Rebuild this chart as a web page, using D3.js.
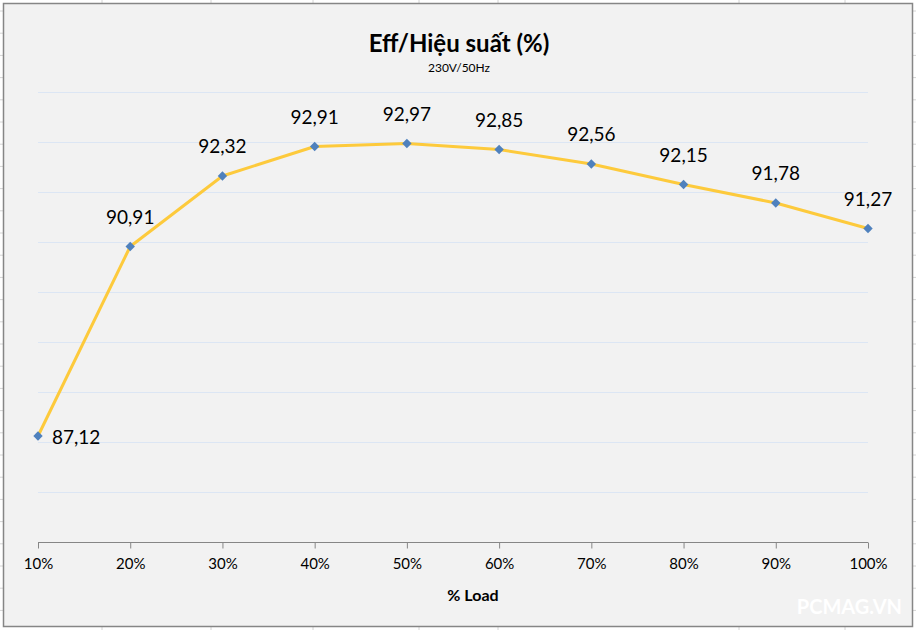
<!DOCTYPE html>
<html>
<head>
<meta charset="utf-8">
<script src="https://cdn.jsdelivr.net/npm/d3@7"></script>
<style>
    body { margin: 0; background: #ffffff; }
    text { font-family: Lato, 'Noto Sans', sans-serif; }
</style>
</head>
<body>
<script>

// DATA

const loads = ['10%', '20%', '30%', '40%', '50%', '60%', '70%', '80%', '90%', '100%'];
const efficiency = [87.12, 90.91, 92.32, 92.91, 92.97, 92.85, 92.56, 92.15, 91.78, 91.27];
const gridValues = [86, 87, 88, 89, 90, 91, 92, 93, 94];

const chartTitle = 'Eff/Hiệu suất (%)',
    chartSubtitle = '230V/50Hz',
    xTitle = '% Load',
    watermark = 'PCMAG.VN';

// SIZES

const width = 916,
    height = 630;

const svg = d3.select('body')
    .append('svg')
    .attr('width', width)
    .attr('height', height);

// sheet cell marks outside the chart frame
const rowMarks = d3.range(11, height, 22.2);
const colMarks = [102, 211, 313, 419, 498, 739, 845];

svg.selectAll('.rowL')
    .data(rowMarks)
    .enter()
    .append('line')
    .attr('x1', 0).attr('x2', 3)
    .attr('y1', d => d).attr('y2', d => d)
    .style('stroke', '#d4d4d4');

svg.selectAll('.rowR')
    .data(rowMarks)
    .enter()
    .append('line')
    .attr('x1', 913).attr('x2', width)
    .attr('y1', d => d).attr('y2', d => d)
    .style('stroke', '#d4d4d4');

svg.selectAll('.colT')
    .data(colMarks)
    .enter()
    .append('line')
    .attr('x1', d => d).attr('x2', d => d)
    .attr('y1', 0).attr('y2', 3)
    .style('stroke', '#d4d4d4');

svg.selectAll('.colB')
    .data(colMarks)
    .enter()
    .append('line')
    .attr('x1', d => d).attr('x2', d => d)
    .attr('y1', 627).attr('y2', height)
    .style('stroke', '#d4d4d4');

// chart frame
svg.append('rect')
    .attr('x', 3.5)
    .attr('y', 3.5)
    .attr('width', 909)
    .attr('height', 623)
    .style('fill', '#f2f2f2')
    .style('stroke', '#868686')
    .style('stroke-width', 1.5);

// SCALES

const x = d3.scalePoint()
    .domain(loads)
    .range([38, 868]);

const y = d3.scaleLinear()
    .domain([85, 94])
    .range([542, 92]);

// GRIDLINES

svg.selectAll('.grid')
    .data(gridValues)
    .enter()
    .append('line')
    .attr('class', 'grid')
    .attr('x1', 38)
    .attr('x2', 868)
    .attr('y1', d => Math.round(y(d)) + 0.5)
    .attr('y2', d => Math.round(y(d)) + 0.5)
    .style('stroke', '#dce6f4')
    .style('stroke-width', 1);

// X AXIS

const xAxis = d3.axisBottom(x)
    .tickSize(6)
    .tickPadding(10);

const axis = svg.append('g')
    .attr('transform', 'translate(0,' + (Math.round(y(85)) + 0.5) + ')')
    .call(xAxis);

axis.select('.domain')
    .attr('d', 'M38,0H868')
    .style('stroke', '#868686');
axis.selectAll('.tick line')
    .style('stroke', '#868686');
axis.selectAll('.tick text')
    .style('font-family', 'Lato, sans-serif')
    .style('font-size', '15px')
    .style('fill', '#000');

// LINE

const line = d3.line()
    .x((d, i) => x(loads[i]))
    .y(d => y(d));

svg.append('path')
    .datum(efficiency)
    .attr('d', line)
    .style('fill', 'none')
    .style('stroke', '#fdca3c')
    .style('stroke-width', 3)
    .style('stroke-linejoin', 'round');

// MARKERS

svg.selectAll('.marker')
    .data(efficiency)
    .enter()
    .append('path')
    .attr('class', 'marker')
    .attr('d', d3.symbol().type(d3.symbolSquare).size(44))
    .attr('transform', (d, i) => 'translate(' + x(loads[i]) + ',' + y(d) + ') rotate(45)')
    .style('fill', '#4f81bd');

// LABELS

svg.selectAll('.valueLabel')
    .data(efficiency)
    .enter()
    .append('text')
    .attr('class', 'valueLabel')
    .attr('x', (d, i) => i === 0 ? x(loads[i]) + 14 : x(loads[i]))
    .attr('y', (d, i) => i === 0 ? y(d) + 8 : y(d) - 23)
    .attr('text-anchor', (d, i) => i === 0 ? 'start' : 'middle')
    .style('font-size', '19px')
    .style('fill', '#000')
    .text(d => d.toFixed(2).replace('.', ','));

// TITLES

svg.append('text')
    .attr('x', 459)
    .attr('y', 52)
    .attr('text-anchor', 'middle')
    .style('font-size', '24px')
    .style('font-weight', 'bold')
    .text(chartTitle);

svg.append('text')
    .attr('x', 459)
    .attr('y', 72)
    .attr('text-anchor', 'middle')
    .style('font-size', '12px')
    .text(chartSubtitle);

svg.append('text')
    .attr('x', 473)
    .attr('y', 601)
    .attr('text-anchor', 'middle')
    .style('font-size', '16px')
    .style('font-weight', 'bold')
    .text(xTitle);

svg.append('text')
    .attr('x', 902)
    .attr('y', 614)
    .attr('text-anchor', 'end')
    .style('font-size', '20px')
    .style('font-weight', 'bold')
    .style('fill', '#ffffff')
    .text(watermark);

</script>
</body>
</html>
